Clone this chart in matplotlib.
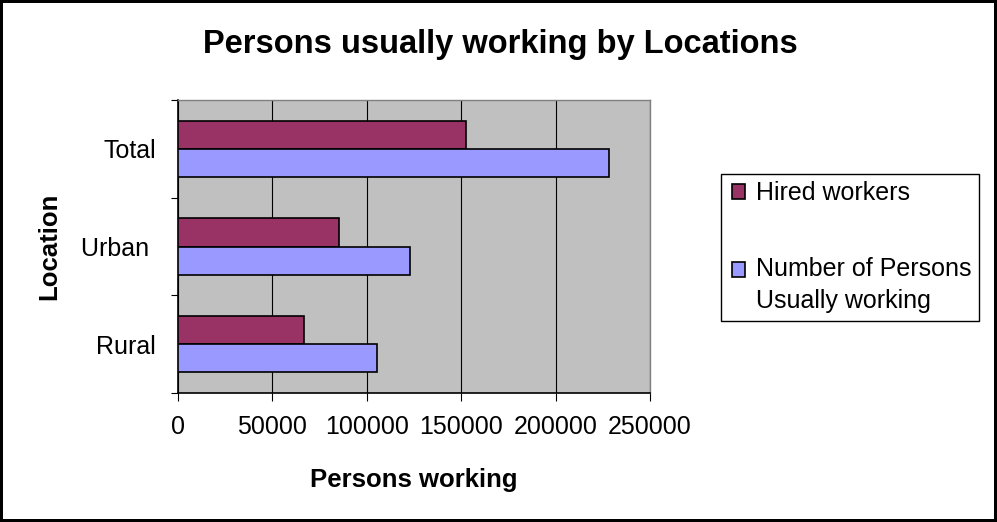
import numpy as np
import matplotlib
matplotlib.use("Agg")
import matplotlib.pyplot as plt
from matplotlib.patches import Rectangle
from matplotlib.legend_handler import HandlerPatch

# data
locations = ["Rural", "Urban ", "Total"]
hired_workers = [66700, 85400, 152400]
persons_working = [105400, 122700, 228300]
x_ticks = [0, 50000, 100000, 150000, 200000, 250000]

plt.rcParams['font.family'] = ['Liberation Sans', 'DejaVu Sans']

W, H = 997, 522
fig = plt.figure(figsize=(W / 100, H / 100), dpi=100)
fig.patch.set_facecolor("white")
fig.patch.set_edgecolor("black")
fig.patch.set_linewidth(3)

ax = fig.add_axes([178 / W, 1 - 393 / H, (650 - 178) / W, (393 - 100) / H])
ax.set_facecolor("#C0C0C0")

y = np.arange(len(locations))
bar_h = 0.287
b1 = ax.barh(y + bar_h / 2, hired_workers, bar_h, color="#993366",
             edgecolor="black", linewidth=1.2, label="Hired workers", zorder=3)
b2 = ax.barh(y - bar_h / 2, persons_working, bar_h, color="#9999FF",
             edgecolor="black", linewidth=1.2,
             label="Number of Persons\nUsually working", zorder=3)

ax.set_xlim(0, 250000)
ax.set_ylim(-0.5, len(locations) - 0.5)
ax.set_xticks(x_ticks)
ax.set_xticklabels([str(t) for t in x_ticks])
ax.grid(axis="x", color="black", linewidth=0.8, zorder=1)
ax.set_axisbelow(True)

ax.set_yticks(y)
ax.set_yticklabels(locations)
ax.set_yticks(np.arange(-0.5, len(locations)), minor=True)
ax.tick_params(axis="y", which="major", length=0, pad=16, labelsize=18)
ax.tick_params(axis="y", which="minor", length=5, width=0.8, direction="out")
ax.tick_params(axis="x", which="major", length=6, width=0.8, direction="out",
               pad=10, labelsize=18)

for s in ["left", "bottom"]:
    ax.spines[s].set_color("black")
    ax.spines[s].set_linewidth(1.2)
for s in ["top", "right"]:
    ax.spines[s].set_color("#808080")
    ax.spines[s].set_linewidth(1.0)

ax.set_xlabel("Persons working", fontsize=18.5, fontweight="bold", labelpad=21)
ax.set_ylabel("Location", fontsize=18.5, fontweight="bold", labelpad=14)

fig.text(0.502, 1 - 53 / H, "Persons usually working by Locations",
         ha="center", va="baseline", fontsize=23.5, fontweight="bold")

h1 = b1.patches[0]
h2 = b2.patches[0]


# square marker of the two-line entry sits next to its first line
def top_square(legend, orig_handle, xdescent, ydescent, width, height, fontsize):
    shift = 11.5 if orig_handle is h2 else 0
    return Rectangle((-xdescent + 2.5, -ydescent + shift), width, height)


def plain_square(legend, orig_handle, xdescent, ydescent, width, height, fontsize):
    return Rectangle((-xdescent + 2.5, -ydescent), width, height)


leg = fig.legend(handles=[h1, h2], labels=[b1.get_label(), b2.get_label()],
                 loc="upper left",
                 bbox_to_anchor=(720.7 / W, 1 - 174 / H), borderaxespad=0,
                 fontsize=18, frameon=True, fancybox=False, framealpha=1,
                 edgecolor="black", handlelength=0.55, handleheight=0.55,
                 handletextpad=0.55, borderpad=0.3, labelspacing=2.05,
                 handler_map={h1: HandlerPatch(patch_func=plain_square),
                              h2: HandlerPatch(patch_func=top_square)})
leg.get_frame().set_linewidth(1.0)
for t in leg.get_texts():
    t.set_linespacing(1.45)

fig.savefig("out.png", dpi=100)
